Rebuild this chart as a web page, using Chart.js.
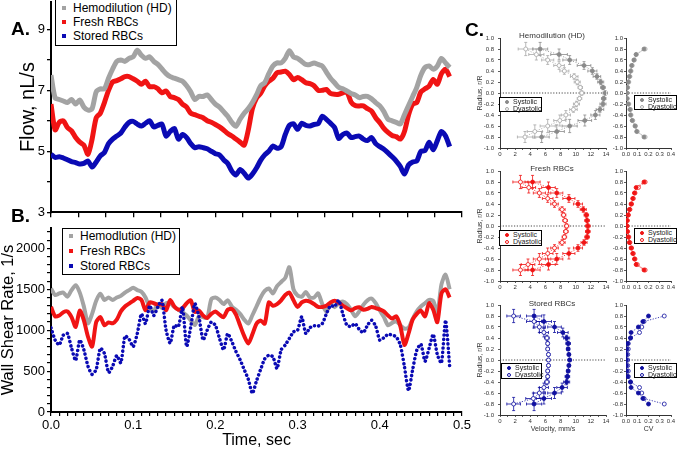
<!DOCTYPE html>
<html>
<head>
<meta charset="utf-8">
<title>Flow, wall shear rate and velocity profiles</title>
<script src="https://cdn.jsdelivr.net/npm/chart.js@4.4.1/dist/chart.umd.min.js"></script>
<style>
  body { margin: 0; background: #fff; font-family: 'Liberation Sans', Arial, sans-serif; }
  #page { position: relative; width: 681px; height: 450px; overflow: hidden; }
  canvas { position: absolute; }
  .tag { position: absolute; font-size: 19px; font-weight: bold; line-height: 19px; }
  .leg { position: absolute; box-sizing: border-box; border: 1.5px solid #000; background: #fff;
         font-size: 12px; line-height: 14px; padding: 1px 0 0 4px; white-space: nowrap; }
  .leg b { display: inline-block; width: 4px; height: 4px; margin: 0 7px 1px 2px; vertical-align: middle; }
  .sub { position: absolute; width: 120px; text-align: center; font-size: 8px; line-height: 8px; color: #333; }
  .leg2 { position: absolute; box-sizing: border-box; border: 1px solid #000; background: #fff;
          font-size: 7px; line-height: 7px; padding: 0 0 0 2px; white-space: nowrap; color: #222; }
  .leg2 i { display: inline-block; box-sizing: border-box; width: 4px; height: 4px; border-radius: 50%;
            border: 0.8px solid; margin: 0 4px 0 3px; vertical-align: middle; }
</style>
</head>
<body>
<div id="page">
  <canvas id="flow_chart" width="480" height="230" style="left:0;top:-8px"></canvas>
  <canvas id="shear_chart" width="480" height="232" style="left:0;top:218px"></canvas>

  <canvas id="hd_vel" width="142" height="130" style="left:470px;top:28px"></canvas>
  <canvas id="hd_cv" width="71" height="130" style="left:606px;top:28px"></canvas>
  <canvas id="fresh_vel" width="142" height="130" style="left:470px;top:161px"></canvas>
  <canvas id="fresh_cv" width="71" height="130" style="left:606px;top:161px"></canvas>
  <canvas id="stored_vel" width="142" height="142" style="left:470px;top:295px"></canvas>
  <canvas id="stored_cv" width="71" height="142" style="left:606px;top:295px"></canvas>

  <div class="tag" style="left:11px;top:19px">A.</div>
  <div class="tag" style="left:11px;top:206px">B.</div>
  <div class="tag" style="left:465px;top:20px">C.</div>

  <div class="leg" style="left:55px;top:-1px;width:122px;height:47px">
    <div><b style="background:#a3a3a3"></b>Hemodilution (HD)</div>
    <div><b style="background:#f01414"></b>Fresh RBCs</div>
    <div><b style="background:#0a0ab4"></b>Stored RBCs</div>
  </div>
  <div class="leg" style="left:62px;top:228px;width:118px;height:47px;line-height:15px;padding-top:0">
    <div><b style="background:#a3a3a3"></b>Hemodlution (HD)</div>
    <div><b style="background:#f01414"></b>Fresh RBCs</div>
    <div><b style="background:#0a0ab4"></b>Stored RBCs</div>
  </div>

  <div class="sub" style="left:492px;top:32px">Hemodilution (HD)</div>
  <div class="sub" style="left:492px;top:165px">Fresh RBCs</div>
  <div class="sub" style="left:492px;top:300px">Stored RBCs</div>

  <div class="leg2" style="left:499px;top:97px;width:43px;height:15px">
    <div><i style="background:#8a8a8a;border-color:#8a8a8a"></i>Systolic</div>
    <div><i style="background:#fff;border-color:#a8a8a8"></i>Dyastolic</div>
  </div>
  <div class="leg2" style="left:634px;top:95px;width:43px;height:15px">
    <div><i style="background:#8a8a8a;border-color:#8a8a8a"></i>Systolic</div>
    <div><i style="background:#fff;border-color:#a8a8a8"></i>Dyastolic</div>
  </div>
  <div class="leg2" style="left:499px;top:230px;width:43px;height:16px">
    <div><i style="background:#f01414;border-color:#f01414"></i>Systolic</div>
    <div><i style="background:#fff;border-color:#f01414"></i>Dyastolic</div>
  </div>
  <div class="leg2" style="left:634px;top:228px;width:43px;height:16px">
    <div><i style="background:#f01414;border-color:#f01414"></i>Systolic</div>
    <div><i style="background:#fff;border-color:#f01414"></i>Dyastolic</div>
  </div>
  <div class="leg2" style="left:501px;top:363px;width:41px;height:16px">
    <div><i style="background:#1010a0;border-color:#1010a0"></i>Systolic</div>
    <div><i style="background:#fff;border-color:#1010a0"></i>Dyastolic</div>
  </div>
  <div class="leg2" style="left:634px;top:363px;width:43px;height:15px">
    <div><i style="background:#1010a0;border-color:#1010a0"></i>Systolic</div>
    <div><i style="background:#fff;border-color:#1010a0"></i>Dyastolic</div>
  </div>
</div>

<script>
// time axis, sec
const time = [
  0, 0.005, 0.01, 0.015, 0.02, 0.025, 0.03, 0.035, 0.04, 0.045,
  0.05, 0.055, 0.06, 0.065, 0.07, 0.075, 0.08, 0.085, 0.09, 0.095,
  0.1, 0.105, 0.11, 0.115, 0.12, 0.125, 0.13, 0.135, 0.14, 0.145,
  0.15, 0.155, 0.16, 0.165, 0.17, 0.175, 0.18, 0.185, 0.19, 0.195,
  0.2, 0.205, 0.21, 0.215, 0.22, 0.225, 0.23, 0.235, 0.24, 0.245,
  0.25, 0.255, 0.26, 0.265, 0.27, 0.275, 0.28, 0.285, 0.29, 0.295,
  0.3, 0.305, 0.31, 0.315, 0.32, 0.325, 0.33, 0.335, 0.34, 0.345,
  0.35, 0.355, 0.36, 0.365, 0.37, 0.375, 0.38, 0.385, 0.39, 0.395,
  0.4, 0.405, 0.41, 0.415, 0.42, 0.425, 0.43, 0.435, 0.44, 0.445,
  0.45, 0.455, 0.46, 0.465, 0.47, 0.475, 0.48, 0.485
];

// A. flow, nL/s
const flowHD = [
  7.50, 6.75, 6.70, 6.65, 6.60, 6.70, 6.55, 6.68, 6.45, 6.35,
  6.40, 6.95, 7.05, 7.05, 7.40, 7.70, 7.95, 8.00, 7.95, 8.05,
  8.10, 8.32, 8.15, 8.05, 8.10, 7.95, 7.85, 7.70, 7.55, 7.45,
  7.40, 7.35, 7.30, 7.15, 6.95, 6.70, 6.80, 6.80, 6.85, 6.70,
  6.55, 6.45, 6.30, 6.15, 5.95, 5.82, 6.05, 6.25, 6.40, 6.60,
  6.85, 7.15, 7.25, 7.55, 7.80, 7.90, 7.90, 8.05, 8.30, 8.10,
  8.05, 7.95, 7.85, 7.85, 7.90, 7.85, 7.80, 7.60, 7.40, 7.25,
  7.10, 7.05, 6.98, 6.90, 6.85, 6.76, 6.80, 6.80, 6.72, 6.60,
  6.49, 6.30, 6.05, 6.00, 5.95, 5.90, 6.20, 6.50, 6.80, 7.10,
  7.50, 7.75, 7.80, 7.69, 7.80, 8.05, 7.90, 7.75
];
const flowFresh = [
  6.55, 5.70, 5.95, 6.00, 5.78, 5.67, 5.45, 5.30, 5.20, 4.90,
  5.40, 6.10, 6.25, 6.60, 7.00, 7.28, 7.32, 7.38, 7.45, 7.45,
  7.38, 7.30, 7.20, 7.30, 7.12, 7.12, 7.05, 6.92, 6.98, 6.80,
  6.76, 6.70, 6.55, 6.45, 6.25, 6.20, 6.15, 6.10, 6.00, 5.95,
  5.88, 5.80, 5.70, 5.58, 5.50, 5.40, 5.30, 5.20, 5.70, 6.40,
  6.75, 6.90, 7.15, 7.30, 7.40, 7.58, 7.60, 7.63, 7.52, 7.35,
  7.42, 7.35, 7.25, 7.22, 7.15, 7.00, 7.00, 7.03, 6.90, 6.87,
  6.87, 6.92, 6.95, 6.62, 6.50, 6.49, 6.49, 6.40, 6.32, 6.10,
  5.94, 5.75, 5.62, 5.52, 5.48, 5.40, 5.65, 6.20, 6.55, 6.60,
  6.95, 7.05, 7.14, 7.36, 7.20, 7.55, 7.69, 7.45
];
const flowStored = [
  4.90, 4.80, 4.82, 4.78, 4.72, 4.66, 4.63, 4.58, 4.60, 4.68,
  4.48, 4.65, 4.85, 4.96, 5.25, 5.40, 5.50, 5.60, 5.80, 5.95,
  5.98, 5.89, 5.83, 5.92, 6.00, 5.80, 5.85, 5.89, 5.50, 5.65,
  5.75, 5.40, 5.55, 5.45, 5.25, 5.12, 5.15, 5.12, 5.08, 5.00,
  4.92, 4.88, 4.72, 4.60, 4.35, 4.22, 4.40, 4.28, 4.12, 4.25,
  4.45, 4.70, 4.88, 5.00, 5.17, 5.10, 5.15, 5.55, 5.85, 5.90,
  5.72, 5.92, 5.85, 5.83, 5.88, 5.90, 6.15, 6.05, 5.92, 5.78,
  5.42, 5.55, 5.60, 5.45, 5.48, 5.50, 5.40, 5.35, 5.45, 5.25,
  5.15, 5.07, 4.95, 4.82, 4.68, 4.50, 4.25, 4.55, 4.65, 4.68,
  5.00, 5.02, 5.30, 5.05, 5.35, 5.65, 5.50, 5.15
];

// B. wall shear rate, 1/s
const shearHD = [
  1510, 1430, 1450, 1460, 1410, 1490, 1550, 1460, 1290, 1085,
  1200, 1360, 1445, 1370, 1400, 1370, 1400, 1420, 1460, 1490,
  1520, 1490, 1470, 1400, 1280, 1240, 1320, 1270, 1330, 1330,
  1285, 1250, 1220, 1180, 1120, 1065, 1170, 1160, 1150, 1380,
  1400, 1370, 1320, 1366, 1290, 1250, 1200, 1130, 1081, 1183,
  1290, 1400, 1480, 1510, 1450, 1540, 1590, 1640, 1770, 1500,
  1425, 1410, 1467, 1400, 1400, 1450, 1320, 1224, 1330, 1280,
  1330, 1350, 1320, 1250, 1170, 1230, 1310, 1366, 1386, 1330,
  1240, 1160, 1060, 1090, 1110, 1060, 1020, 1030, 1140, 1230,
  1290, 1330, 1370, 1360, 1210, 1560, 1680, 1500
];
const shearFresh = [
  1285, 1170, 1180, 1220, 1230, 1160, 1041, 1240, 1120, 920,
  800, 1100, 1160, 1061, 1095, 1085, 1130, 1230, 1290, 1325,
  1360, 1395, 1370, 1244, 1340, 1330, 1310, 1320, 1244, 1370,
  1290, 1250, 1270, 1330, 1366, 1224, 1240, 1180, 1150, 1200,
  1230, 1190, 1160, 1250, 1260, 1190, 1060, 930, 837, 950,
  1080, 1120, 1080, 1340, 1300, 1320, 1366, 1430, 1460, 1366,
  1285, 1340, 1360, 1350, 1320, 1285, 1285, 1300, 1340, 1360,
  1340, 1300, 1270, 1244, 1270, 1280, 1250, 1260, 1285, 1270,
  1255, 1230, 1180, 1142, 1170, 1050, 820, 960, 1130, 1200,
  1240, 1170, 1330, 1250, 1100, 1450, 1500, 1400
];
const shearStored = [
  1030, 880, 820, 940, 960, 780, 630, 880, 760, 560,
  460, 520, 780, 715, 480, 560, 690, 600, 930, 890,
  800, 960, 1200, 1080, 1300, 1180, 1285, 1366, 1000, 840,
  1060, 1041, 1285, 800, 1041, 1325, 1163, 880, 1000, 1100,
  1060, 900, 760, 959, 860, 740, 640, 520, 400, 228,
  380, 520, 650, 695, 675, 530, 760, 820, 900, 980,
  1000, 1163, 959, 1030, 1055, 1050, 1080, 1200, 1300, 1290,
  1366, 1200, 1060, 1045, 1081, 1010, 970, 1060, 1122, 1050,
  878, 910, 950, 940, 919, 820, 553, 260, 520, 756,
  830, 620, 780, 950, 700, 600, 1122, 560
];

// C. radial profiles, r/R
const radius = [0.8, 0.7, 0.6, 0.5, 0.4, 0.3, 0.2, 0.1, 0, -0.1, -0.2, -0.3, -0.4, -0.5, -0.6, -0.7, -0.8];

// velocity, mm/s
const hdSys = [5.3, 7.8, 9.2, 11.1, 12.2, 12.8, 13.3, 13.6, 13.9, 13.7, 13.6, 13.2, 12.6, 11.2, 9.2, 7.5, 5.5];
const hdDia = [3.4, 4.8, 6.3, 7.8, 8.5, 9.8, 10.2, 10.6, 10.8, 10.5, 10.1, 9.7, 8.7, 7.9, 6.3, 4.6, 3.3];
const freshSys = [4.3, 6.4, 7.5, 9.1, 10.3, 11.0, 11.4, 11.5, 11.6, 11.6, 11.5, 11.1, 10.3, 9.1, 7.5, 6.4, 4.3];
const freshDia = [2.7, 3.8, 5.2, 6.3, 7.2, 8.2, 8.4, 8.6, 8.8, 8.7, 8.5, 8.2, 7.2, 6.3, 5.2, 3.7, 2.7];
const storedSys = [4.5, 5.8, 7.2, 8.3, 8.8, 9.0, 9.0, 9.1, 9.2, 9.1, 9.0, 8.9, 8.8, 8.2, 7.2, 5.8, 4.5];
const storedDia = [1.8, 4.5, 5.2, 5.8, 6.2, 6.3, 6.3, 6.4, 6.4, 6.4, 6.3, 6.3, 6.2, 5.8, 5.2, 4.4, 1.8];

// error bars (velocity and radius)
const hdSysErr = [1.0, 1.1, 0.9, 0.9, 0.6, 0.5, 0.4, 0.3, 0.3, 0.3, 0.4, 0.5, 0.6, 0.9, 1.0, 1.0, 1.0];
const hdDiaErr = [1.0, 1.0, 0.8, 0.7, 0.6, 0.5, 0.4, 0.3, 0.3, 0.3, 0.4, 0.5, 0.6, 0.8, 1.0, 1.0, 1.0];
const hdRadErr = [0.12, 0.1, 0.08, 0.07, 0.06, 0.05, 0.05, 0.04, 0.04, 0.04, 0.05, 0.05, 0.08, 0.1, 0.12, 0.12, 0.1];
const freshSysErr = [1.0, 0.9, 0.8, 0.8, 0.6, 0.4, 0.3, 0.3, 0.3, 0.3, 0.3, 0.4, 0.6, 0.8, 0.8, 0.9, 1.0];
const freshDiaErr = [1.0, 0.9, 0.8, 0.7, 0.5, 0.4, 0.3, 0.3, 0.3, 0.3, 0.3, 0.4, 0.5, 0.7, 0.8, 0.9, 1.0];
const freshRadErr = [0.12, 0.1, 0.08, 0.07, 0.06, 0.05, 0.04, 0.04, 0.04, 0.04, 0.04, 0.05, 0.06, 0.1, 0.1, 0.1, 0.1];
const storedSysErr = [1.0, 1.0, 0.9, 0.7, 0.4, 0.3, 0.2, 0.2, 0.2, 0.2, 0.2, 0.3, 0.4, 0.7, 0.9, 1.0, 1.0];
const storedDiaErr = [0.9, 1.0, 0.8, 0.6, 0.3, 0.2, 0.2, 0.2, 0.2, 0.2, 0.2, 0.2, 0.3, 0.6, 0.8, 1.0, 0.9];
const storedRadErr = [0.12, 0.12, 0.1, 0.08, 0.05, 0.04, 0.03, 0.03, 0.03, 0.03, 0.03, 0.04, 0.05, 0.08, 0.1, 0.1, 0.12];

// coefficient of variation
const hdCvSys = [0.16, 0.09, 0.07, 0.05, 0.04, 0.03, 0.02, 0.012, 0.008, 0.01, 0.02, 0.035, 0.04, 0.055, 0.08, 0.095, 0.16];
const hdCvDia = [0.17, 0.09, 0.075, 0.055, 0.045, 0.035, 0.025, 0.015, 0.01, 0.01, 0.025, 0.04, 0.045, 0.06, 0.085, 0.1, 0.17];
const freshCvSys = [0.16, 0.09, 0.075, 0.06, 0.045, 0.03, 0.018, 0.01, 0.008, 0.012, 0.02, 0.03, 0.045, 0.06, 0.075, 0.09, 0.16];
const freshCvDia = [0.17, 0.11, 0.08, 0.065, 0.05, 0.035, 0.022, 0.012, 0.01, 0.014, 0.025, 0.035, 0.05, 0.065, 0.08, 0.1, 0.17];
const storedCvSys = [0.2, 0.15, 0.11, 0.045, 0.04, 0.015, 0.008, 0.004, 0.004, 0.004, 0.008, 0.015, 0.04, 0.045, 0.11, 0.15, 0.2];
const storedCvDia = [0.34, 0.16, 0.14, 0.12, 0.04, 0.02, 0.02, 0.015, 0.015, 0.015, 0.02, 0.02, 0.04, 0.12, 0.14, 0.16, 0.34];

const GREY = '#a3a3a3';
const RED = '#f01414';
const BLUE = '#0a0ab4';

Chart.defaults.font.family = "'Liberation Sans', Arial, sans-serif";
Chart.defaults.color = '#000';
Chart.defaults.animation = false;
Chart.defaults.plugins.legend.display = false;
Chart.defaults.plugins.tooltip.enabled = false;

function pairs(xs, ys) {
  return ys.map((v, i) => ({x: xs[i], y: v}));
}

function blackGrid(len, width) {
  return {drawOnChartArea: false, drawTicks: true, tickLength: len, color: '#000', lineWidth: width};
}

// A. flow
new Chart(document.getElementById('flow_chart'), {
  type: 'line',
  data: {
    datasets: [
      {data: pairs(time, flowHD), borderColor: GREY, borderWidth: 5, pointRadius: 0, tension: 0.25},
      {data: pairs(time, flowFresh), borderColor: RED, borderWidth: 5, pointRadius: 0, tension: 0.25},
      {data: pairs(time, flowStored), borderColor: BLUE, borderWidth: 5, pointRadius: 0, tension: 0.25}
    ]
  },
  options: {
    responsive: false,
    layout: {padding: {top: 10, right: 18, left: 0, bottom: 0}},
    scales: {
      x: {
        type: 'linear', min: 0, max: 0.5,
        ticks: {display: false, stepSize: 1 / 30},
        grid: blackGrid(5, 1.3),
        border: {color: '#000', width: 2},
        afterFit: s => { s.height = 9; }
      },
      y: {
        min: 3, max: 9.9,
        ticks: {stepSize: 1, includeBounds: false, padding: 2, font: {size: 13},
                callback: v => (v % 2 === 1 ? v : '')},
        grid: blackGrid(4, 1.3),
        border: {color: '#000', width: 2},
        title: {display: true, text: 'Flow, nL/s', font: {size: 20, lineHeight: 1}, padding: {top: 18, bottom: 0}},
        afterFit: s => { s.width = 51; }
      }
    }
  }
});

// B. wall shear rate
new Chart(document.getElementById('shear_chart'), {
  type: 'line',
  data: {
    datasets: [
      {data: pairs(time, shearStored), borderColor: BLUE, borderWidth: 3.5, borderDash: [0.1, 4.2],
       borderCapStyle: 'round', pointRadius: 0, tension: 0.2},
      {data: pairs(time, shearFresh), borderColor: RED, borderWidth: 4, pointRadius: 0, tension: 0.25},
      {data: pairs(time, shearHD), borderColor: GREY, borderWidth: 4, pointRadius: 0, tension: 0.25}
    ]
  },
  options: {
    responsive: false,
    layout: {padding: {top: 10, right: 18, left: 0, bottom: 0}},
    scales: {
      x: {
        type: 'linear', min: 0, max: 0.5,
        ticks: {stepSize: 0.01, autoSkip: false, maxRotation: 0, padding: 2, font: {size: 13},
                callback: v => { const k = Math.round(v * 100); return k % 10 === 0 ? (k / 100).toFixed(1) : ''; }},
        grid: blackGrid(4, 1.2),
        border: {color: '#000', width: 2},
        title: {display: true, text: 'Time, sec', font: {size: 16, lineHeight: 1}, padding: {top: 0, bottom: 1}},
        afterFit: s => { s.height = 38; }
      },
      y: {
        min: 0, max: 2250,
        ticks: {stepSize: 100, includeBounds: false, autoSkip: false, padding: 2, font: {size: 13},
                callback: v => (v % 500 === 0 ? v : '')},
        grid: blackGrid(4, 1.2),
        border: {color: '#000', width: 2},
        title: {display: true, text: 'Wall Shear Rate, 1/s', font: {size: 16.5, lineHeight: 1}, padding: {top: 0, bottom: 0}},
        afterFit: s => { s.width = 51; }
      }
    }
  }
});

// C. helpers
const zeroLine = {
  id: 'zeroLine',
  beforeDatasetsDraw(chart) {
    const {ctx, chartArea, scales} = chart;
    const y0 = scales.y.getPixelForValue(0);
    ctx.save();
    ctx.strokeStyle = '#333';
    ctx.lineWidth = 0.9;
    ctx.setLineDash([1.2, 1.6]);
    ctx.beginPath();
    ctx.moveTo(chartArea.left, y0);
    ctx.lineTo(chartArea.right, y0);
    ctx.stroke();
    ctx.restore();
  }
};

const errorBars = {
  id: 'errorBars',
  beforeDatasetsDraw(chart) {
    const {ctx, scales: {x, y}} = chart;
    chart.data.datasets.forEach(ds => {
      if (!ds.errX) return;
      ctx.save();
      ctx.strokeStyle = ds.borderColor;
      ctx.lineWidth = 0.8;
      ds.data.forEach((p, i) => {
        const px = x.getPixelForValue(p.x);
        const py = y.getPixelForValue(p.y);
        const xa = x.getPixelForValue(p.x - ds.errX[i]);
        const xb = x.getPixelForValue(p.x + ds.errX[i]);
        const ya = y.getPixelForValue(p.y - ds.errY[i]);
        const yb = y.getPixelForValue(p.y + ds.errY[i]);
        ctx.beginPath();
        ctx.moveTo(xa, py); ctx.lineTo(xb, py);
        ctx.moveTo(xa, py - 1.5); ctx.lineTo(xa, py + 1.5);
        ctx.moveTo(xb, py - 1.5); ctx.lineTo(xb, py + 1.5);
        ctx.moveTo(px, ya); ctx.lineTo(px, yb);
        ctx.moveTo(px - 1.5, ya); ctx.lineTo(px + 1.5, ya);
        ctx.moveTo(px - 1.5, yb); ctx.lineTo(px + 1.5, yb);
        ctx.stroke();
      });
      ctx.restore();
    });
  }
};

function profileSet(vals, color, filled, errX, errY) {
  return {
    data: pairs(vals, radius),
    errX: errX, errY: errY,
    showLine: true,
    borderColor: color, borderWidth: 0.8, borderDash: [1.2, 1.5],
    pointRadius: 2, pointBorderWidth: 0.8,
    pointBorderColor: color,
    pointBackgroundColor: filled ? color : '#fff'
  };
}

function profileChart(id, datasets, xMax, xStep, xLabel, yWidth, withTitles, xHeight) {
  new Chart(document.getElementById(id), {
    type: 'scatter',
    data: {datasets: datasets},
    options: {
      responsive: false,
      layout: {padding: {top: 10, right: 6, left: 0, bottom: 0}},
      scales: {
        x: {
          type: 'linear', min: 0, max: xMax,
          ticks: {stepSize: xStep, autoSkip: false, maxRotation: 0, padding: 1, font: {size: 6}, color: '#333', callback: xLabel},
          grid: {drawOnChartArea: false, tickLength: 2, color: '#333', lineWidth: 0.8},
          border: {color: '#333', width: 1},
          title: {display: withTitles.x !== '', text: withTitles.x, font: {size: 7, lineHeight: 1}, color: '#333', padding: {top: 0, bottom: 4}},
          afterFit: s => { s.height = xHeight; }
        },
        y: {
          min: -1, max: 1,
          ticks: {stepSize: 0.2, autoSkip: false, padding: withTitles.y ? 4 : 1, font: {size: 6}, color: '#333',
                  callback: v => v.toFixed(1)},
          grid: {drawOnChartArea: false, tickLength: 2, color: '#333', lineWidth: 0.8},
          border: {color: '#333', width: 1},
          title: {display: withTitles.y, text: 'Radius, r/R', font: {size: 7, lineHeight: 1}, color: '#333', padding: {top: 6.5, bottom: 0}},
          afterFit: s => { s.width = yWidth; }
        }
      }
    },
    plugins: [zeroLine, errorBars]
  });
}

const velLabel = v => (v % 2 === 0 ? v : '');
const cvLabel = v => v.toFixed(1);
const HD_SYS = '#8a8a8a', HD_DIA = '#a8a8a8', ST = '#1010a0';

profileChart('hd_vel', [
  profileSet(hdSys, HD_SYS, true, hdSysErr, hdRadErr),
  profileSet(hdDia, HD_DIA, false, hdDiaErr, hdRadErr)
], 14, 1, velLabel, 30, {x: '', y: true}, 10);
profileChart('hd_cv', [
  profileSet(hdCvSys, HD_SYS, true),
  profileSet(hdCvDia, HD_DIA, false)
], 0.4, 0.1, cvLabel, 20, {x: '', y: false}, 10);

profileChart('fresh_vel', [
  profileSet(freshSys, RED, true, freshSysErr, freshRadErr),
  profileSet(freshDia, RED, false, freshDiaErr, freshRadErr)
], 14, 1, velLabel, 30, {x: '', y: true}, 10);
profileChart('fresh_cv', [
  profileSet(freshCvSys, RED, true),
  profileSet(freshCvDia, RED, false)
], 0.4, 0.1, cvLabel, 20, {x: '', y: false}, 10);

profileChart('stored_vel', [
  profileSet(storedSys, ST, true, storedSysErr, storedRadErr),
  profileSet(storedDia, ST, false, storedDiaErr, storedRadErr)
], 14, 1, velLabel, 30, {x: 'Velocity, mm/s', y: true}, 22);
profileChart('stored_cv', [
  profileSet(storedCvSys, ST, true),
  profileSet(storedCvDia, ST, false)
], 0.4, 0.1, cvLabel, 20, {x: 'CV', y: false}, 22);
</script>
</body>
</html>
